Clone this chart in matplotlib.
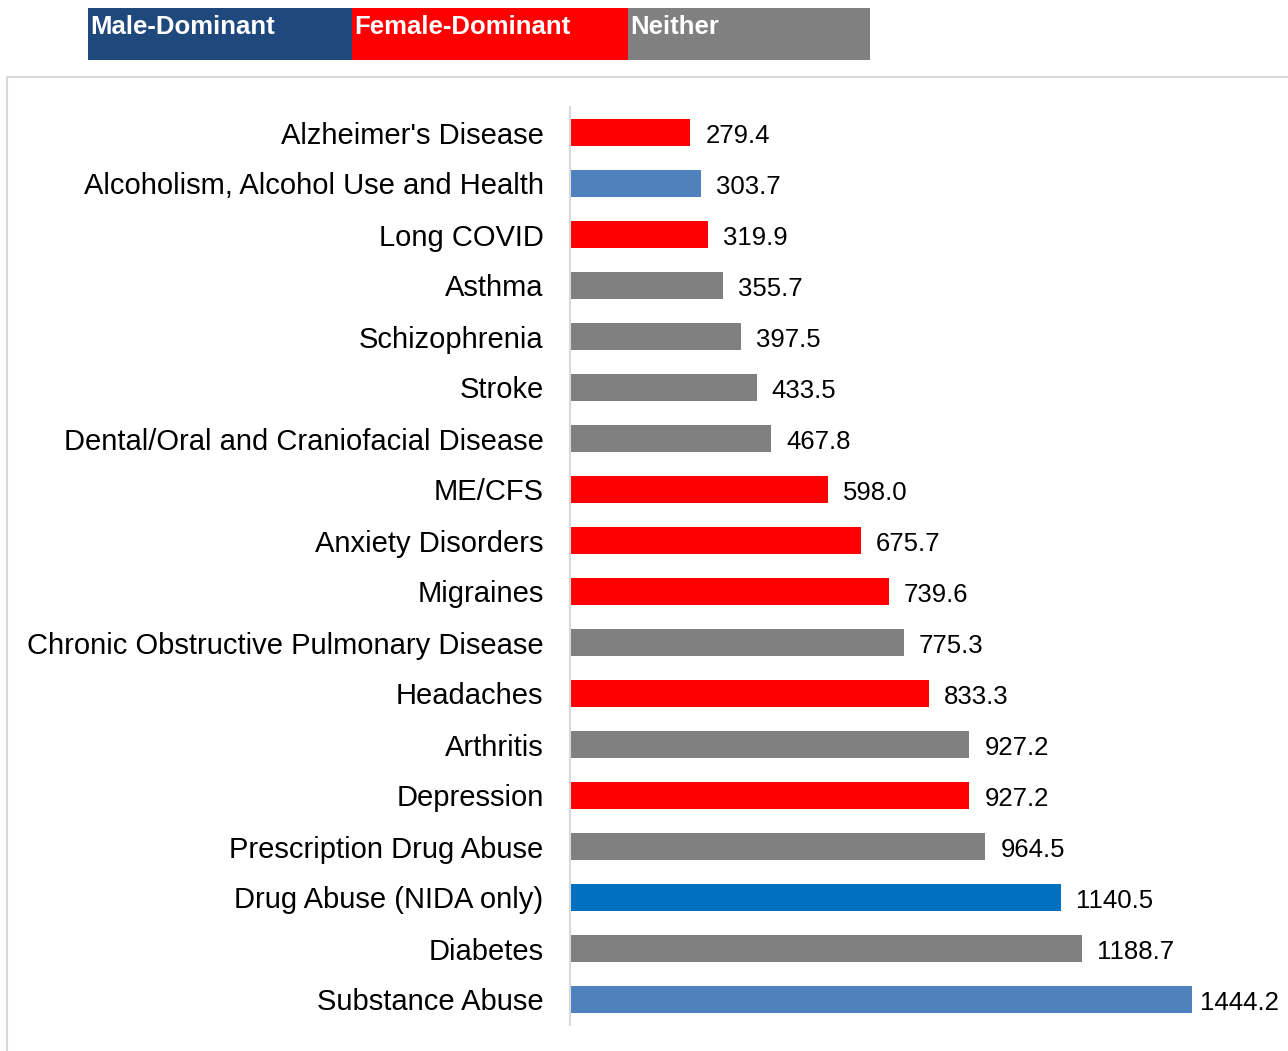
import matplotlib
matplotlib.use('Agg')
import matplotlib.pyplot as plt
from matplotlib.patches import Rectangle

plt.rcParams['font.family'] = ['Liberation Sans', 'DejaVu Sans']

# Data (top to bottom)
diseases = [
    "Alzheimer's Disease", "Alcoholism, Alcohol Use and Health", "Long COVID",
    "Asthma", "Schizophrenia", "Stroke", "Dental/Oral and Craniofacial Disease",
    "ME/CFS", "Anxiety Disorders", "Migraines",
    "Chronic Obstructive Pulmonary Disease", "Headaches", "Arthritis",
    "Depression", "Prescription Drug Abuse", "Drug Abuse (NIDA only)",
    "Diabetes", "Substance Abuse",
]
values = [279.4, 303.7, 319.9, 355.7, 397.5, 433.5, 467.8, 598.0, 675.7,
          739.6, 775.3, 833.3, 927.2, 927.2, 964.5, 1140.5, 1188.7, 1444.2]
groups = ['F', 'M', 'F', 'N', 'N', 'N', 'N', 'F', 'F', 'F', 'N', 'F', 'N',
          'F', 'N', 'M2', 'N', 'M']

legend_labels = ['Male-Dominant', 'Female-Dominant', 'Neither']
legend_colors = ['#1F497D', '#FF0000', '#808080']

bar_colors = {'F': '#FF0000', 'M': '#4F81BD', 'M2': '#0070C0', 'N': '#808080'}

W, H = 1288, 1051
fig = plt.figure(figsize=(W / 100, H / 100), dpi=100)

# outer chart frame
fig.patches.append(Rectangle((7 / W, 0 - 0.01), 1.0, 1 - 77 / H + 0.01,
                             transform=fig.transFigure, fill=False,
                             edgecolor='#D9D9D9', linewidth=1.5))

# header legend boxes
box_edges = [88, 352, 628, 870]
for i, (lab, col) in enumerate(zip(legend_labels, legend_colors)):
    x0, x1 = box_edges[i], box_edges[i + 1]
    fig.patches.append(Rectangle((x0 / W, 1 - 60 / H), (x1 - x0) / W, 52 / H,
                                 transform=fig.transFigure, color=col, lw=0))
    fig.text((x0 + 2) / W, 1 - 27 / H, lab, color='white', fontsize=18.5,
             fontweight='bold', va='center', ha='left')

ax = fig.add_axes([570 / W, 1 - 1025 / H, (W - 570) / W, (1025 - 107) / H])
ypos = list(range(len(diseases)))
ax.barh(ypos, values, height=0.52,
        color=[bar_colors[g] for g in groups])
ax.set_ylim(len(diseases) - 0.5, -0.5)
ax.set_xlim(0, 718 / 0.4307)

for y, v in zip(ypos, values):
    off = 18 if v > 1400 else 35
    ax.text(v + off, y + 0.06, f'{v:.1f}', va='center', ha='left',
            fontsize=18.5, color='black')

ax.set_yticks(ypos)
ax.set_yticklabels(diseases, fontsize=21)
ax.tick_params(axis='y', length=0, pad=19)
ax.set_xticks([])
for s in ['top', 'right', 'bottom']:
    ax.spines[s].set_visible(False)
ax.spines['left'].set_color('#D9D9D9')
ax.spines['left'].set_linewidth(1.5)
ax.patch.set_alpha(0)

fig.savefig('out.png', dpi=100)
